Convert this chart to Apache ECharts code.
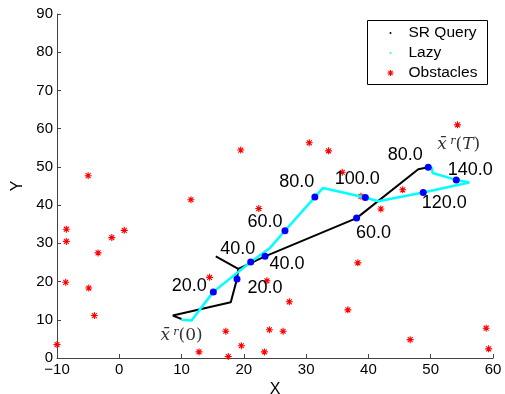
<!DOCTYPE html>
<html>
<head>
<meta charset="utf-8">
<script src="https://cdn.jsdelivr.net/npm/echarts@6/dist/echarts.min.js"></script>
<style>
  html, body { margin: 0; padding: 0; background: #fff; }
  #main { width: 505px; height: 394px; }
</style>
</head>
<body>
<div id="main"></div>
<script>
// axis ticks
const xTicks = [-10, 0, 10, 20, 30, 40, 50, 60];
const yTicks = [0, 10, 20, 30, 40, 50, 60, 70, 80, 90];

// SR Query path (black)
const srPath = [
  [10.0, 10.2], [8.6, 11.1], [17.9, 14.6], [18.9, 20.7], [19.1, 23.3],
  [15.5, 26.6], [19.1, 23.3], [23.4, 26.6], [38.1, 36.6], [48.0, 49.4], [49.6, 49.9]
];
const srDots = [[18.9, 20.7], [23.4, 26.6], [38.1, 36.6], [49.6, 49.9]];
const srDotLabels = ['20.0', '40.0', '60.0', '80.0'];

// Lazy path (cyan)
const lazyPath = [
  [10.0, 10.0], [11.6, 9.8], [15.1, 17.3], [21.1, 25.1], [24.2, 28.8], [26.6, 33.3],
  [31.4, 42.1], [32.7, 44.5], [39.5, 42.0], [41.6, 41.0], [48.8, 43.3], [56.2, 45.9],
  [54.1, 46.6], [50.3, 48.4], [50.2, 49.7], [49.6, 49.9]
];
const lazyDots = [[15.1, 17.3], [21.1, 25.1], [26.6, 33.3], [31.4, 42.1], [39.5, 42.0], [48.8, 43.3], [54.1, 46.6]];
const lazyDotLabels = ['20.0', '40.0', '60.0', '80.0', '100.0', '120.0', '140.0'];

// obstacles
const obstacles = [
  [-10.0, 3.5], [-8.5, 33.7], [-8.5, 30.5], [-8.6, 19.8], [-5.0, 47.7], [-4.9, 18.3],
  [-4.0, 11.1], [-3.4, 27.5], [-1.2, 31.5], [0.8, 33.4], [11.5, 41.4], [19.5, 54.4],
  [14.5, 21.1], [12.8, 1.6], [17.1, 7.0], [17.5, 0.4], [19.6, 3.2], [23.3, 1.6],
  [22.4, 39.1], [23.7, 20.2], [24.1, 7.4], [26.3, 7.0], [27.3, 14.7], [30.5, 56.3],
  [33.6, 54.2], [35.8, 48.6], [36.7, 12.6], [38.3, 24.9], [38.8, 42.3], [42.0, 39.0],
  [45.5, 44.0], [46.7, 4.8], [54.3, 61.0], [58.9, 7.8], [59.3, 2.4]
];

const font = 'Liberation Sans, Arial, Helvetica, sans-serif';
const serif = 'DejaVu Serif, Liberation Serif, serif';
const star = 'path://M0,-1L0,1M-1,0L1,0M-0.7,-0.7L0.7,0.7M-0.7,0.7L0.7,-0.7';

// label offsets for each dot (pixels)
const srOffsets = [[28, 9], [22, 8], [17, 15], [-23, -12]];
const lazyOffsets = [[-24, -6], [-13, -13], [-20, -9], [-18, -15], [-8, -18], [21, 11], [14, -10]];

function dotData(pts, labels, offs) {
  return pts.map((p, i) => ({
    value: p,
    label: {
      show: true, formatter: labels[i], position: 'inside', offset: offs[i],
      color: '#000', textBorderWidth: 0, fontSize: 18, fontFamily: font,
      align: 'center', verticalAlign: 'middle'
    }
  }));
}

const richX = {
  x: { fontFamily: serif, fontStyle: 'italic', fontSize: 17, color: '#333' },
  r: { fontFamily: serif, fontStyle: 'italic', fontSize: 11, color: '#333', verticalAlign: 'top', padding: [0, 0, 8, 0] },
  p: { fontFamily: serif, fontSize: 17, color: '#333' },
  t: { fontFamily: serif, fontStyle: 'italic', fontSize: 17, color: '#333' }
};

// small asterisk for the legend box
function legendStar(cx, cy) {
  const seg = [[0, -3, 0, 3], [-3, 0, 3, 0], [-2.1, -2.1, 2.1, 2.1], [-2.1, 2.1, 2.1, -2.1]];
  return seg.map(s => ({
    type: 'line', shape: { x1: cx + s[0], y1: cy + s[1], x2: cx + s[2], y2: cy + s[3] },
    style: { stroke: '#ff0000', lineWidth: 1.1 }
  }));
}

const chart = echarts.init(document.getElementById('main'));
const option = {
  animation: false,
  backgroundColor: '#fff',
  grid: { left: 57, right: 12, top: 14, bottom: 36, outerBoundsMode: 'none', containLabel: false },
  xAxis: {
    type: 'value', min: xTicks[0], max: xTicks[xTicks.length - 1], interval: 10,
    name: 'X', nameLocation: 'middle', nameGap: 21,
    nameTextStyle: { fontSize: 16, fontFamily: font, color: '#000' },
    axisLine: { onZero: false, lineStyle: { color: '#444', width: 1 } },
    axisTick: { inside: true, length: 4, lineStyle: { color: '#444' } },
    axisLabel: { fontSize: 15, fontFamily: font, color: '#000', margin: 4,
      formatter: v => String(v).replace('-', '\u2212') },
    splitLine: { show: false }
  },
  yAxis: {
    type: 'value', min: yTicks[0], max: yTicks[yTicks.length - 1], interval: 10,
    name: 'Y', nameLocation: 'middle', nameGap: 27,
    nameTextStyle: { fontSize: 16, fontFamily: font, color: '#000' },
    axisLine: { show: true, onZero: false, lineStyle: { color: '#444', width: 1 } },
    axisTick: { show: true, inside: true, length: 4, lineStyle: { color: '#444' } },
    axisLabel: { fontSize: 15, fontFamily: font, color: '#000', margin: 4 },
    splitLine: { show: false }
  },
  series: [
    {
      name: 'Obstacles', type: 'scatter', data: obstacles, symbol: star, symbolSize: 7,
      itemStyle: { color: '#ff0000', borderColor: '#ff0000', borderWidth: 1.1, opacity: 1 }, z: 2
    },
    {
      name: 'SR Query', type: 'line', data: srPath, showSymbol: false,
      lineStyle: { color: '#000', width: 2 }, z: 3
    },
    {
      name: 'Lazy', type: 'line', data: lazyPath, showSymbol: false,
      lineStyle: { color: '#00ffff', width: 2.5 }, z: 4
    },
    {
      type: 'scatter', data: dotData(srDots, srDotLabels, srOffsets), symbolSize: 7,
      itemStyle: { color: '#0000ff', opacity: 1 }, z: 5
    },
    {
      type: 'scatter', data: dotData(lazyDots, lazyDotLabels, lazyOffsets), symbolSize: 7,
      itemStyle: { color: '#0000ff', opacity: 1 }, z: 5
    },
    {
      type: 'scatter', symbol: 'circle', symbolSize: 1,
      itemStyle: { color: 'rgba(0,0,0,0)', opacity: 1 }, z: 6,
      data: [
        { value: [10.0, 5.8], label: { show: true, position: 'inside', formatter: '{x|x\u0304} {r|r}{p|(0)}', rich: richX } },
        { value: [54.5, 55.8], label: { show: true, position: 'inside', formatter: '{x|x\u0304} {r|r}{p|(}{t|T}{p|)}', rich: richX } }
      ]
    }
  ],
  graphic: [{
    type: 'group', left: 367, top: 20,
    children: [
      { type: 'rect', shape: { x: 0, y: 0, width: 120, height: 64 },
        style: { fill: '#fff', stroke: '#000', lineWidth: 1 } },
      { type: 'circle', shape: { cx: 23, cy: 12.5, r: 1 }, style: { fill: '#000' } },
      { type: 'circle', shape: { cx: 23, cy: 32.5, r: 1 }, style: { fill: '#00ffff' } }
    ].concat(legendStar(23, 52.5), [
      { type: 'text', x: 41, y: 12.5, style: { text: 'SR Query', font: '15.5px ' + font, fill: '#000', verticalAlign: 'middle' } },
      { type: 'text', x: 41, y: 32.5, style: { text: 'Lazy', font: '15.5px ' + font, fill: '#000', verticalAlign: 'middle' } },
      { type: 'text', x: 41, y: 52.5, style: { text: 'Obstacles', font: '15.5px ' + font, fill: '#000', verticalAlign: 'middle' } }
    ])
  }]
};
chart.setOption(option);
</script>
</body>
</html>
